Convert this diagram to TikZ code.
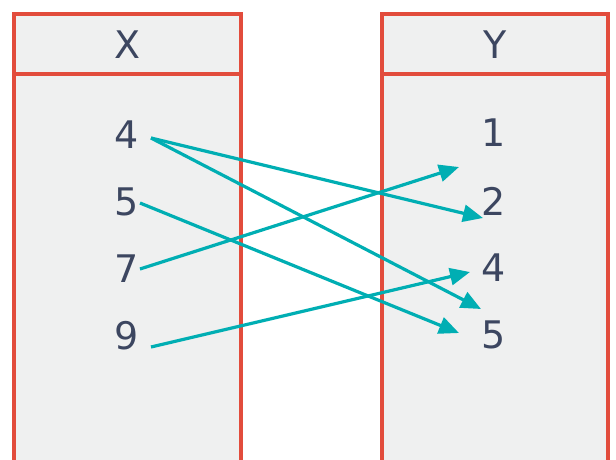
\documentclass[tikz,border=0pt]{standalone}
\usepackage{fontspec}
\setmainfont{DejaVu Sans}
\usetikzlibrary{arrows.meta}
\definecolor{boxred}{HTML}{E24C3C}
\definecolor{boxfill}{HTML}{EFF0F0}
\definecolor{teal}{HTML}{00AEB3}
\definecolor{ink}{HTML}{3C4660}
\tikzset{
  setbox/.style={draw=boxred, fill=boxfill, line width=3.4pt},
  val/.style={text=ink, font=\fontsize{38}{38}\selectfont, inner sep=0pt, anchor=center},
  maparrow/.style={draw=teal, line width=3.2pt, -{Triangle[length=20pt,width=17pt]}},
}
\begin{document}
\begin{tikzpicture}[x=1pt,y=-1pt]
\useasboundingbox (0,0) rectangle (616,459);
% boxes
\path[setbox] (14,74) rectangle (241,480);
\path[setbox] (14,14) rectangle (241,74);
\path[setbox] (382,74) rectangle (608,480);
\path[setbox] (382,14) rectangle (608,74);
% headers
\node[val] (hx) at (127.5,45) {X};
\node[val] (hy) at (495,45) {Y};
% left values
\node[val] (x4) at (127,135) {4};
\node[val] (x5) at (127,202) {5};
\node[val] (x7) at (127,269) {7};
\node[val] (x9) at (127,336) {9};
% right values
\node[val] (y1) at (494,133) {1};
\node[val] (y2) at (494,201) {2};
\node[val] (y4) at (494,268) {4};
\node[val] (y5) at (494,335) {5};
% connector ends
\coordinate (s4) at (151,138);
\coordinate (s5) at (140,203);
\coordinate (s7) at (140,269);
\coordinate (s9) at (151,347);
\coordinate (t2) at (483,218);
\coordinate (t5a) at (481,309);
\coordinate (t5b) at (459,333);
\coordinate (t1) at (459,167);
\coordinate (t4) at (470,272);
% arrows
\path[maparrow] (s4) -- (t2);
\path[maparrow] (s4) -- (t5a);
\path[maparrow] (s5) -- (t5b);
\path[maparrow] (s7) -- (t1);
\path[maparrow] (s9) -- (t4);
\end{tikzpicture}
\end{document}
